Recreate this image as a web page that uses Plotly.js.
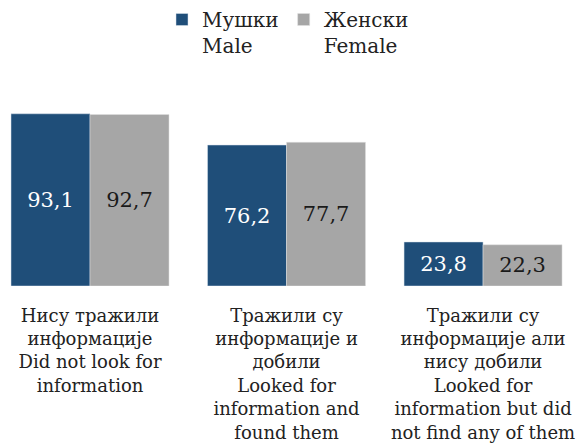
<!DOCTYPE html>
<html><head><meta charset="utf-8">
<script src="https://cdn.plot.ly/plotly-3.0.1.min.js"></script>
<style>html,body{margin:0;padding:0;background:#fff}</style>
</head><body><div id="chart" style="width:576px;height:446px"></div>
<script>
const categories = [
  "Нису тражили<br>информације<br>Did not look for<br>information",
  "Тражили су<br>информације и<br>добили<br>Looked for<br>information and<br>found them",
  "Тражили су<br>информације али<br>нису добили<br>Looked for<br>information but did<br>not find any of them"
];
const seriesNames = ["Мушки<br>Male", "Женски<br>Female"];
const maleValues = [93.1, 76.2, 23.8];
const femaleValues = [92.7, 77.7, 22.3];

const serif = "DejaVu Serif, Liberation Serif, serif";
const fmt = v => v.toFixed(1).replace('.', ',');

const traces = [
  {type:'bar', x:categories, y:maleValues, name:seriesNames[0],
   marker:{color:'#1f4e79', line:{color:'#d9e2ec', width:0.5}},
   text:maleValues.map(fmt), textposition:'inside', insidetextanchor:'middle',
   textfont:{family:serif, size:21, color:'#ffffff'}, hoverinfo:'none'},
  {type:'bar', x:categories, y:femaleValues, name:seriesNames[1],
   marker:{color:'#a6a6a6', line:{color:'#e0e0e0', width:0.5}},
   text:femaleValues.map(fmt), textposition:'inside', insidetextanchor:'middle',
   textfont:{family:serif, size:21, color:'#1a1a1a'}, hoverinfo:'none'}
];

const layout = {
  width:576, height:446,
  margin:{l:0, r:0, t:101, b:160},
  paper_bgcolor:'#ffffff', plot_bgcolor:'#ffffff',
  barmode:'group', bargap:0.196, bargroupgap:0,
  showlegend:true,
  legend:{orientation:'h', x:0.5, xanchor:'center', y:1.55, yanchor:'top',
          font:{family:serif, size:20, color:'#222'}, traceorder:'normal',
          itemwidth:30, valign:'top'},
  xaxis:{range:[-0.458, 2.473], showgrid:false, zeroline:false, showline:false,
         ticks:'outside', ticklen:13, tickcolor:'rgba(0,0,0,0)',
         tickfont:{family:serif, size:18, color:'#222'}, automargin:false},
  yaxis:{range:[0,100], visible:false, showgrid:false, zeroline:false, fixedrange:true},
  font:{family:serif}
};

Plotly.newPlot('chart', traces, layout, {displayModeBar:false, staticPlot:true});
</script></body></html>
